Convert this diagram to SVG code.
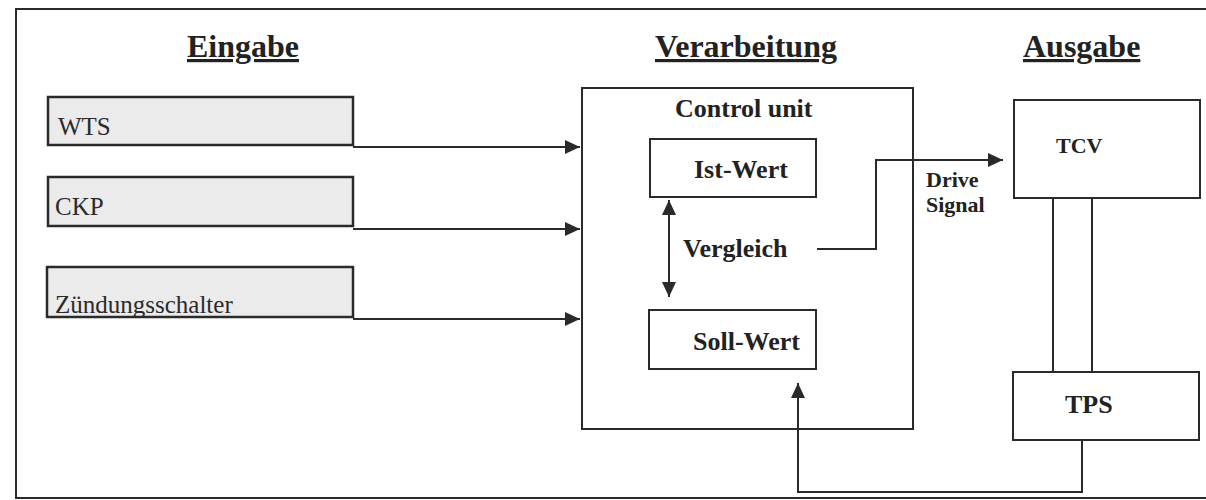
<svg xmlns="http://www.w3.org/2000/svg" width="1206" height="500" viewBox="0 0 1206 500">
<defs>
<style>
.frame{fill:none;stroke:#2a2a2a;stroke-width:2}
.box{fill:#fff;stroke:#2a2a2a;stroke-width:2}
.inbox{fill:#ebebeb;stroke:#2a2a2a;stroke-width:2.5}
.line{fill:none;stroke:#2a2a2a;stroke-width:2}
.title{font-family:"Liberation Serif",serif;font-weight:bold;font-size:32px;fill:#222;text-decoration:underline}
.reg{font-family:"Liberation Serif",serif;font-size:25px;fill:#2a2a2a}
.bold{font-family:"Liberation Serif",serif;font-weight:bold;font-size:26px;fill:#222}
.small{font-family:"Liberation Serif",serif;font-weight:bold;font-size:22px;fill:#222}
</style>
<marker id="arr" markerUnits="userSpaceOnUse" markerWidth="16" markerHeight="14" refX="15" refY="7" orient="auto-start-reverse">
<path d="M0,0 L15,7 L0,14 Z" fill="#2a2a2a"/>
</marker>
</defs>
<rect x="0" y="0" width="1206" height="500" fill="#fff"/>
<rect class="frame" x="16" y="9" width="1200" height="489"/>
<g id="titles">
<text class="title" x="187" y="57">Eingabe</text>
<text class="title" x="655" y="57">Verarbeitung</text>
<text class="title" x="1023" y="57">Ausgabe</text>
</g>
<g id="wts"><rect class="inbox" x="48" y="97" width="305" height="48"/><text class="reg" x="58" y="135">WTS</text></g>
<g id="ckp"><rect class="inbox" x="48" y="177" width="305" height="49"/><text class="reg" x="55" y="215">CKP</text></g>
<g id="zuend"><rect class="inbox" x="47" y="267" width="306" height="50"/><text class="reg" x="55" y="313">Zündungsschalter</text></g>
<g id="control-unit"><rect class="box" x="582" y="88" width="331" height="341"/><text class="bold" x="675" y="117">Control unit</text></g>
<g id="ist-wert"><rect class="box" x="650" y="139" width="166" height="58"/><text class="bold" x="694" y="178">Ist-Wert</text></g>
<g id="soll-wert"><rect class="box" x="649" y="310" width="167" height="59"/><text class="bold" x="693" y="350">Soll-Wert</text></g>
<g id="vergleich"><text class="bold" x="683" y="257">Vergleich</text></g>
<g id="tcv"><rect class="box" x="1014" y="100" width="186" height="98"/><text class="small" x="1056" y="153">TCV</text></g>
<g id="tps"><rect class="box" x="1013" y="372" width="186" height="68"/><text class="bold" x="1065" y="413">TPS</text></g>
<g id="connectors">
<path class="line" d="M353,147 H580" marker-end="url(#arr)"/>
<path class="line" d="M353,229 H580" marker-end="url(#arr)"/>
<path class="line" d="M353,319 H580" marker-end="url(#arr)"/>
<path class="line" d="M669,200 V297" marker-start="url(#arr)" marker-end="url(#arr)"/>
<path class="line" d="M817,249 H876 V160 H1003" marker-end="url(#arr)"/>
<path class="line" d="M1053,198 V372 M1092,198 V372"/>
<path class="line" d="M1082,440 V492 H798 V383" marker-end="url(#arr)"/>
<text class="small" x="926" y="187">Drive</text>
<text class="small" x="926" y="212">Signal</text>
</g>
</svg>
